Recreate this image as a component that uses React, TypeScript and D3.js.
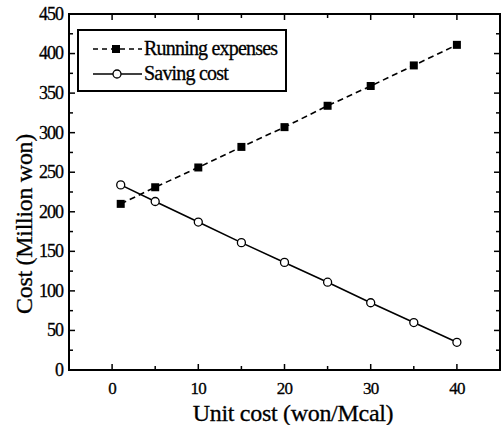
import React, { useRef, useEffect } from 'react';
import * as d3 from 'd3';

const unitCost = [1, 5, 10, 15, 20, 25, 30, 35, 40];
const runningExpenses = [210, 231, 256, 282, 307, 334, 359, 385, 411];
const savingCost = [234, 213, 187, 161, 136, 111, 85, 60, 35];
const xTicks = [0, 10, 20, 30, 40];
const yTicks = [0, 50, 100, 150, 200, 250, 300, 350, 400, 450];
const legendLabels = ['Running expenses', 'Saving cost'];

const W = 502;
const H = 425;
const margin = { top: 14, right: 2, bottom: 55, left: 69 };
const FONT = "'Liberation Serif', 'Times New Roman', serif";

const App = () => {
  const ref = useRef<SVGSVGElement>(null);

  useEffect(() => {
    const root = d3.select(ref.current);
    root.selectAll('*').remove();
    root.attr('width', W).attr('height', H);

    const innerW = W - margin.left - margin.right;
    const innerH = H - margin.top - margin.bottom;

    const x = d3.scaleLinear().domain([-5, 45]).range([0, innerW]);
    const y = d3.scaleLinear().domain([0, 450]).range([innerH, 0]);

    const svg = root.append('g').attr('transform', `translate(${margin.left},${margin.top})`);

    // frame
    svg.append('rect')
      .attr('width', innerW).attr('height', innerH)
      .attr('fill', 'none').attr('stroke', '#000').attr('stroke-width', 2);

    const xMinor = d3.range(-5, 46, 5);
    const yMinor = d3.range(0, 451, 25);

    // ticks point inward on all four sides
    xMinor.forEach(v => {
      const len = v % 10 === 0 ? 6 : 4;
      svg.append('line').attr('x1', x(v)).attr('x2', x(v)).attr('y1', innerH).attr('y2', innerH - len)
        .attr('stroke', '#000').attr('stroke-width', 1.5);
      svg.append('line').attr('x1', x(v)).attr('x2', x(v)).attr('y1', 0).attr('y2', len)
        .attr('stroke', '#000').attr('stroke-width', 1.5);
    });
    yMinor.forEach(v => {
      const len = v % 50 === 0 ? 6 : 4;
      svg.append('line').attr('x1', 0).attr('x2', len).attr('y1', y(v)).attr('y2', y(v))
        .attr('stroke', '#000').attr('stroke-width', 1.5);
      svg.append('line').attr('x1', innerW).attr('x2', innerW - len).attr('y1', y(v)).attr('y2', y(v))
        .attr('stroke', '#000').attr('stroke-width', 1.5);
    });

    // tick labels
    svg.selectAll('.xl').data(xTicks).enter().append('text')
      .attr('x', d => x(d)).attr('y', innerH + 24)
      .attr('text-anchor', 'middle')
      .style('font-family', FONT).style('font-size', '17px').style('letter-spacing', '-0.8px')
      .style('stroke', '#000').style('stroke-width', '0.3px')
      .text(d => d);
    svg.selectAll('.yl').data(yTicks).enter().append('text')
      .attr('x', -6).attr('y', d => y(d)).attr('dy', '0.33em')
      .attr('text-anchor', 'end')
      .style('font-family', FONT).style('font-size', '18px').style('letter-spacing', '-1px')
      .style('stroke', '#000').style('stroke-width', '0.3px')
      .text(d => d);

    // axis titles
    root.append('text')
      .attr('x', 293).attr('y', 421)
      .attr('text-anchor', 'middle')
      .style('font-family', FONT).style('font-size', '24px').style('letter-spacing', '-0.3px')
      .style('stroke', '#000').style('stroke-width', '0.3px')
      .text('Unit cost (won/Mcal)');
    root.append('text')
      .attr('transform', 'translate(32,224) rotate(-90)')
      .attr('text-anchor', 'middle')
      .style('font-family', FONT).style('font-size', '24px').style('letter-spacing', '-0.3px')
      .style('stroke', '#000').style('stroke-width', '0.3px')
      .text('Cost (Million won)');

    const line = d3.line<number>().x((_, i) => x(unitCost[i])).y(d => y(d));

    svg.append('path').datum(runningExpenses).attr('d', line)
      .attr('fill', 'none').attr('stroke', '#000').attr('stroke-width', 1.6)
      .attr('stroke-dasharray', '6,4');
    svg.append('path').datum(savingCost).attr('d', line)
      .attr('fill', 'none').attr('stroke', '#000').attr('stroke-width', 1.6);

    svg.selectAll('.sq').data(runningExpenses).enter().append('rect')
      .attr('x', (_, i) => x(unitCost[i]) - 4).attr('y', d => y(d) - 4)
      .attr('width', 8).attr('height', 8).attr('fill', '#000');
    svg.selectAll('.ci').data(savingCost).enter().append('circle')
      .attr('cx', (_, i) => x(unitCost[i])).attr('cy', d => y(d)).attr('r', 4)
      .attr('fill', '#fff').attr('stroke', '#000').attr('stroke-width', 1.3);

    // legend
    const lg = root.append('g');
    lg.append('rect').attr('x', 78).attr('y', 30).attr('width', 208).attr('height', 61)
      .attr('fill', '#fff').attr('stroke', '#000').attr('stroke-width', 2);
    const rows = [49, 74];
    legendLabels.forEach((label, i) => {
      const ly = rows[i];
      lg.append('line').attr('x1', 93).attr('x2', 142).attr('y1', ly).attr('y2', ly)
        .attr('stroke', '#000').attr('stroke-width', 1.6)
        .attr('stroke-dasharray', i === 0 ? '5,4' : null);
      if (i === 0) {
        lg.append('rect').attr('x', 112).attr('y', ly - 4).attr('width', 8).attr('height', 8).attr('fill', '#000');
      } else {
        lg.append('circle').attr('cx', 117).attr('cy', ly).attr('r', 4)
          .attr('fill', '#fff').attr('stroke', '#000').attr('stroke-width', 1.3);
      }
      lg.append('text').attr('x', 144).attr('y', ly).attr('dy', '0.3em')
        .style('font-family', FONT).style('font-size', '20px').style('letter-spacing', '-0.8px')
        .style('stroke', '#000').style('stroke-width', '0.3px')
        .text(label);
    });
  }, []);

  return <svg ref={ref} style={{ position: 'absolute', left: 0, top: 0 }}></svg>;
};

export default App;
